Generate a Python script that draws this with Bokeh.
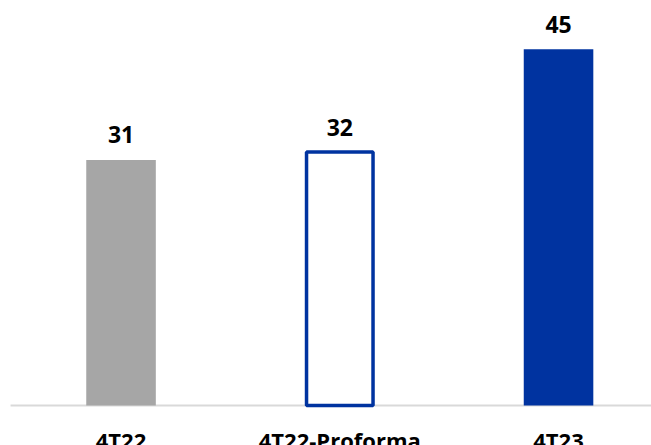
from bokeh.plotting import figure
from bokeh.models import Range1d
from bokeh.core.properties import value
from bokeh.embed import file_html
from bokeh.resources import INLINE

categories = ["4T22", "4T22-Proforma", "4T23"]
values = [31, 32, 45]

GRAY = "#a6a6a6"
BLUE = "#0033a0"
FONT = "Open Sans"

x_idx = list(range(len(categories)))

p = figure(width=651, height=445, output_backend="svg", toolbar_location=None,
           x_range=Range1d(-0.551, 2.425), y_range=Range1d(-5.05, 51.14),
           min_border=0, min_border_left=0, min_border_right=0,
           min_border_top=0, min_border_bottom=0)
p.axis.visible = False
p.grid.visible = False
p.outline_line_color = None
p.background_fill_color = "white"
p.border_fill_color = "white"

# baseline (starts a little in from the left edge, as in the reference)
p.segment(x0=[-0.505], y0=[0], x1=[2.425], y1=[0], line_color="#d9d9d9", line_width=2)

# filled bars
p.vbar(x=[x_idx[0]], top=[values[0]], width=0.318, fill_color=GRAY, line_color=None)
p.vbar(x=[x_idx[2]], top=[values[2]], width=0.318, fill_color=BLUE, line_color=None)
# outlined proforma bar
p.vbar(x=[x_idx[1]], top=[values[1]], width=0.304, fill_color="white",
       line_color=BLUE, line_width=3.5)

# value labels
p.text(x=x_idx, y=values, text=[str(v) for v in values], text_align="center",
       text_baseline="alphabetic", y_offset=-25, text_font=value(FONT),
       text_font_style="bold", text_font_size="23px", text_color="#000000")

# category labels (cut off at bottom like the reference)
p.text(x=x_idx, y=[0] * 3, text=categories, text_align="center",
       text_baseline="top", y_offset=19, text_font=value(FONT),
       text_font_style="bold", text_font_size="22px", text_color="#000000")

open("out.html", "w").write(file_html(p, INLINE))
